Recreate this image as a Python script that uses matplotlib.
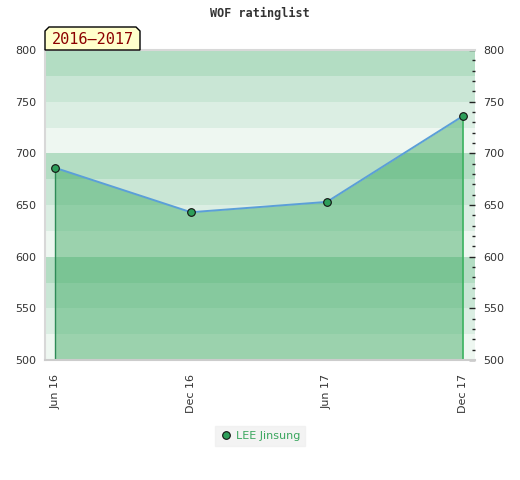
import matplotlib
matplotlib.use("Agg")
import matplotlib.pyplot as plt
from matplotlib.patches import Polygon
from matplotlib.ticker import MultipleLocator
import numpy as np

# ---- data ----
periods = ["Jun 16", "Dec 16", "Jun 17", "Dec 17"]
ratings = [686, 643, 653, 736]
player = "LEE Jinsung"
title = "WOF ratinglist"
season = "2016\u20132017"
y_min, y_max = 500, 800

W, H = 520, 480
fig = plt.figure(figsize=(W / 100, H / 100), dpi=100)
L, R, T, B = 45, 475, 50, 360
ax = fig.add_axes([L / W, 1 - B / H, (R - L) / W, (B - T) / H])

x = np.arange(len(periods))

# background bands
band_colors = ["#b3ddc3", "#c9e6d5", "#dbeee3", "#eef7f1"]
edges = np.arange(y_max, y_min, -25)
for i, top in enumerate(edges):
    ax.axhspan(top - 25, top, color=band_colors[i % 4], lw=0, zorder=0)

ax.fill_between(x, ratings, y_min, color="#36a75c", alpha=0.45, lw=0, zorder=1)
ax.plot([x[0], x[0]], [y_min, ratings[0]], color="#2e8b57", lw=1, zorder=2)
ax.plot([x[-1], x[-1]], [y_min, ratings[-1]], color="#3cb360", lw=1.2, zorder=2)
ax.plot(x, ratings, color="#5b9fd8", lw=1.4, zorder=3)
ax.plot(x, ratings, ls="none", marker="o", ms=5.5, mfc="#2e9e5a", mec="#111111",
        mew=0.8, zorder=4, label=player)

ax.set_xlim(-0.074, 3.09)
ax.set_ylim(y_min, y_max)
ax.set_xticks(x)
ax.set_xticklabels(periods, rotation=90, fontsize=8, color="#333333")
ax.tick_params(axis="x", length=0, pad=10)

ax.yaxis.set_major_locator(MultipleLocator(50))
ax.yaxis.set_minor_locator(MultipleLocator(10))
ax.tick_params(axis="y", which="both", left=False, right=True, labelleft=True,
               labelright=True, direction="in", color="#222222", labelsize=8,
               labelcolor="#333333", pad=6)
ax.tick_params(axis="y", which="major", length=4, width=1)
ax.tick_params(axis="y", which="minor", length=2.5, width=1)

for s in ["left", "top"]:
    ax.spines[s].set_color("#d8d8d8")
    ax.spines[s].set_linewidth(1.5)
ax.spines["bottom"].set_color("#cccccc")
ax.spines["bottom"].set_linewidth(1.5)
ax.spines["right"].set_visible(False)

fig.text(0.5, 1 - 13 / H, title, ha="center", va="center",
         fontsize=8.5, fontweight="bold", family="DejaVu Sans Mono", color="#333333")

# season label box with clipped top corners
bx0, bx1, by0, by1, c = 45, 140, 27, 50, 4
pts = [(bx0, by1), (bx0, by0 + c), (bx0 + c, by0), (bx1 - c, by0), (bx1, by0 + c), (bx1, by1)]
pts = [(px / W, 1 - py / H) for px, py in pts]
fig.patches.append(Polygon(pts, closed=True, transform=fig.transFigure,
                           facecolor="#ffffcc", edgecolor="#000000", lw=1, zorder=5))
fig.text((bx0 + bx1) / 2 / W, 1 - 39.5 / H, season, ha="center", va="center",
         fontsize=11, family="DejaVu Sans Mono", color="#8b0000", zorder=6)

leg = fig.legend(loc="center", bbox_to_anchor=(260 / W, 1 - 436 / H), frameon=True,
                 fontsize=8, handletextpad=0.4, borderpad=0.45, handlelength=1.0,
                 fancybox=False)
leg.get_frame().set_facecolor("#f0f0f0")
leg.get_frame().set_edgecolor("#f0f0f0")
for t in leg.get_texts():
    t.set_color("#3aa65e")

fig.savefig("out.png", dpi=100)
